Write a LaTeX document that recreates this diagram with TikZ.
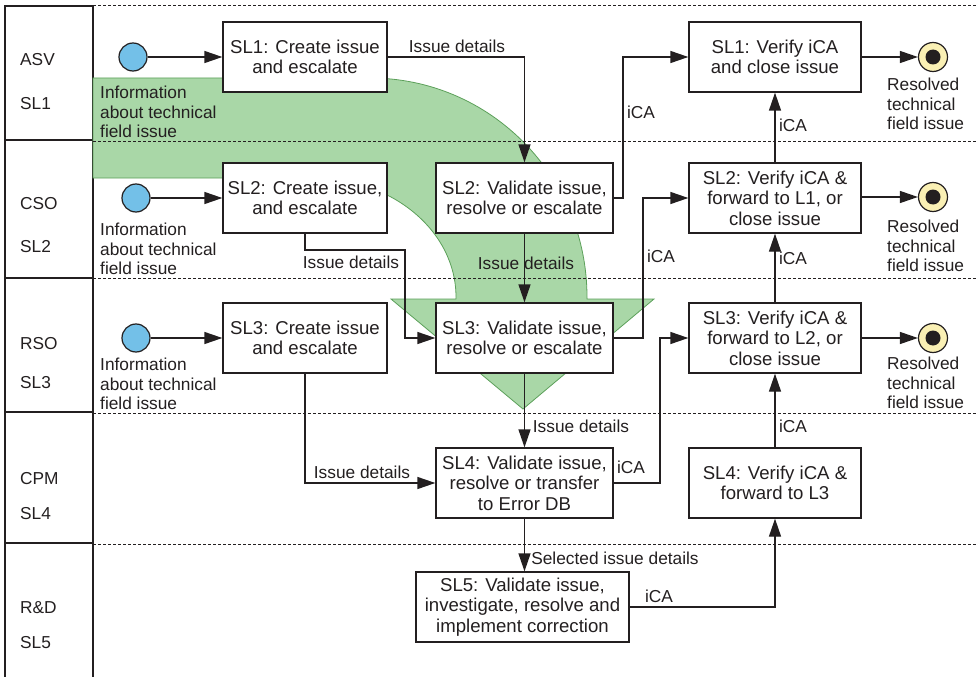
\documentclass[tikz,border=0pt]{standalone}
\usepackage{fontspec}
\setmainfont{Liberation Sans}
\usetikzlibrary{arrows.meta}

\definecolor{ink}{RGB}{35,31,32}
\definecolor{skyb}{RGB}{115,192,232}
\definecolor{paleyel}{RGB}{250,240,180}
\definecolor{bandfill}{RGB}{169,215,167}
\definecolor{bandline}{RGB}{92,160,90}

\newcommand\boxfont{\fontsize{18.6}{20.6}\selectfont}
\newcommand\lblfont{\fontsize{17.3}{19.2}\selectfont}

\begin{document}
\begin{tikzpicture}[x=1pt,y=-1pt,
  every node/.style={text=ink},
  box/.style={draw=ink, fill=white, line width=1.3pt, align=center,
    font=\boxfont, inner sep=0pt, minimum height=70pt},
  lbl/.style={font=\lblfont, inner sep=0pt},
  multilbl/.style={font=\lblfont, inner sep=0pt, align=left, anchor=west},
  lanename/.style={font=\lblfont, inner sep=0pt, anchor=west},
  flow/.style={draw=ink, line width=1.3pt, -{Triangle[length=18pt,width=12pt]}},
  startc/.style={circle, draw=ink, fill=skyb, minimum size=28pt, inner sep=0pt, line width=1.2pt},
  endc/.style={circle, draw=ink, fill=paleyel, minimum size=29pt, inner sep=0pt, line width=1.2pt},
  lanerule/.style={draw=ink, line width=1.3pt},
  sep/.style={draw=ink, line width=1pt, dash pattern=on 2.5pt off 2.5pt}]

\useasboundingbox (0,0) rectangle (978,677);

% lane header column
\draw[lanerule] (5,677) -- (5,6) -- (93,6) -- (93,677);
\foreach \yy in {140,278,412,543} \draw[lanerule] (5,\yy) -- (93,\yy);

% escalation band: broad arrow curving from the top lanes down into SL4
\draw[fill=bandfill, draw=bandline, line width=0.8pt]
  (93,78) -- (370,78)
  .. controls (490,78) and (587,176) .. (587,297)
  -- (587,299) -- (654,299) -- (523,409) -- (391,299) -- (456,299) -- (456,297)
  .. controls (456,231) and (392,178) .. (314,178)
  -- (93,178) -- cycle;

% lane separators
\foreach \yy in {6,141,278,413,544} \draw[sep] (93,\yy) -- (978,\yy);

% lane names
\node[lanename] (n1a) at (20,60) {ASV};
\node[lanename] (n1b) at (20,104) {SL1};
\node[lanename] (n2a) at (20,204) {CSO};
\node[lanename] (n2b) at (20,247) {SL2};
\node[lanename] (n3a) at (20,344) {RSO};
\node[lanename] (n3b) at (20,383) {SL3};
\node[lanename] (n4a) at (20,479) {CPM};
\node[lanename] (n4b) at (20,514) {SL4};
\node[lanename] (n5a) at (20,608) {R\&D};
\node[lanename] (n5b) at (20,643) {SL5};

% start events
\node[startc] (s1) at (133,57) {};
\node[startc] (s2) at (136,198) {};
\node[startc] (s3) at (136,338) {};
\node[multilbl] (t1) at (100,112) {Information\\about technical\\field issue};
\node[multilbl] (t2) at (100,249) {Information\\about technical\\field issue};
\node[multilbl] (t3) at (100,384) {Information\\about technical\\field issue};

% create tasks
\node[box, minimum width=164pt] (c1) at (305,57) {SL1: Create issue\\and escalate};
\node[box, minimum width=164pt] (c2) at (305,198) {SL2: Create issue,\\and escalate};
\node[box, minimum width=164pt] (c3) at (305,338) {SL3: Create issue\\and escalate};

% validation tasks
\node[box, minimum width=177pt] (v2) at (524.5,198) {SL2: Validate issue,\\resolve or escalate};
\node[box, minimum width=177pt] (v3) at (524.5,338) {SL3: Validate issue,\\resolve or escalate};
\node[box, minimum width=177pt] (v4) at (524.5,483) {SL4: Validate issue,\\resolve or transfer\\to Error DB};
\node[box, minimum width=213pt] (v5) at (522.5,607) {SL5: Validate issue,\\investigate, resolve and\\implement correction};

% verification tasks
\node[box, minimum width=172pt] (f1) at (775,57) {SL1: Verify iCA\\and close issue};
\node[box, minimum width=172pt] (f2) at (775,198) {SL2: Verify iCA \&\\forward to L1, or\\close issue};
\node[box, minimum width=172pt] (f3) at (775,338) {SL3: Verify iCA \&\\forward to L2, or\\close issue};
\node[box, minimum width=172pt] (f4) at (775,483) {SL4: Verify iCA \&\\forward to L3};

% end events
\node[endc] (e1) at (933,57) {};
\node[endc] (e2) at (933,197) {};
\node[endc] (e3) at (933,338) {};
\foreach \e in {e1,e2,e3} \fill[ink] (\e) circle (7.5pt);
\node[multilbl] (r1) at (887,104) {Resolved\\technical\\field issue};
\node[multilbl] (r2) at (887,246) {Resolved\\technical\\field issue};
\node[multilbl] (r3) at (887,383) {Resolved\\technical\\field issue};

% routing points
\coordinate (j1) at (405,250);
\coordinate (j2) at (623,120);
\coordinate (j3) at (643,260);
\coordinate (j4) at (660,420);

% connectors
\draw[flow] (s1) -- (c1);
\draw[flow] (s2) -- (c2);
\draw[flow] (s3) -- (c3);
\draw[flow] (c1.east) -| (v2.north);
\draw[flow] (c2.south) |- (j1) |- (v3.west);
\draw[flow] (v2.south) -- (v3.north);
\draw[flow] (c3.south) |- (v4.west);
\draw[flow] (v3.south) -- (v4.north);
\draw[flow] (v4.south) -- (v4.south |- v5.north);
\draw[flow] (v2.east) -| (j2) |- (f1.west);
\draw[flow] (v3.east) -| (j3) |- (f2.west);
\draw[flow] (v4.east) -| (j4) |- (f3.west);
\draw[flow] (v5.east) -| (f4.south);
\draw[flow] (f4.north) -- (f3.south);
\draw[flow] (f3.north) -- (f2.south);
\draw[flow] (f2.north) -- (f1.south);
\draw[flow] (f1) -- (e1);
\draw[flow] (f2.east |- e2) -- (e2);
\draw[flow] (f3) -- (e3);

% connector labels
\node[lbl] (l1) at (457,46) {Issue details};
\node[lbl] (l2) at (351,262) {Issue details};
\node[lbl] (l3) at (526,263) {Issue details};
\node[lbl] (l4) at (581,426) {Issue details};
\node[lbl] (l5) at (362,472) {Issue details};
\node[lbl] (l6) at (615,558) {Selected issue details};
\node[lbl] (l7) at (641,112) {iCA};
\node[lbl] (l8) at (661,256) {iCA};
\node[lbl] (l9) at (631,467) {iCA};
\node[lbl] (l10) at (659,596) {iCA};
\node[lbl] (l11) at (793,125) {iCA};
\node[lbl] (l12) at (793,258) {iCA};
\node[lbl] (l13) at (793,426) {iCA};

\end{tikzpicture}
\end{document}
